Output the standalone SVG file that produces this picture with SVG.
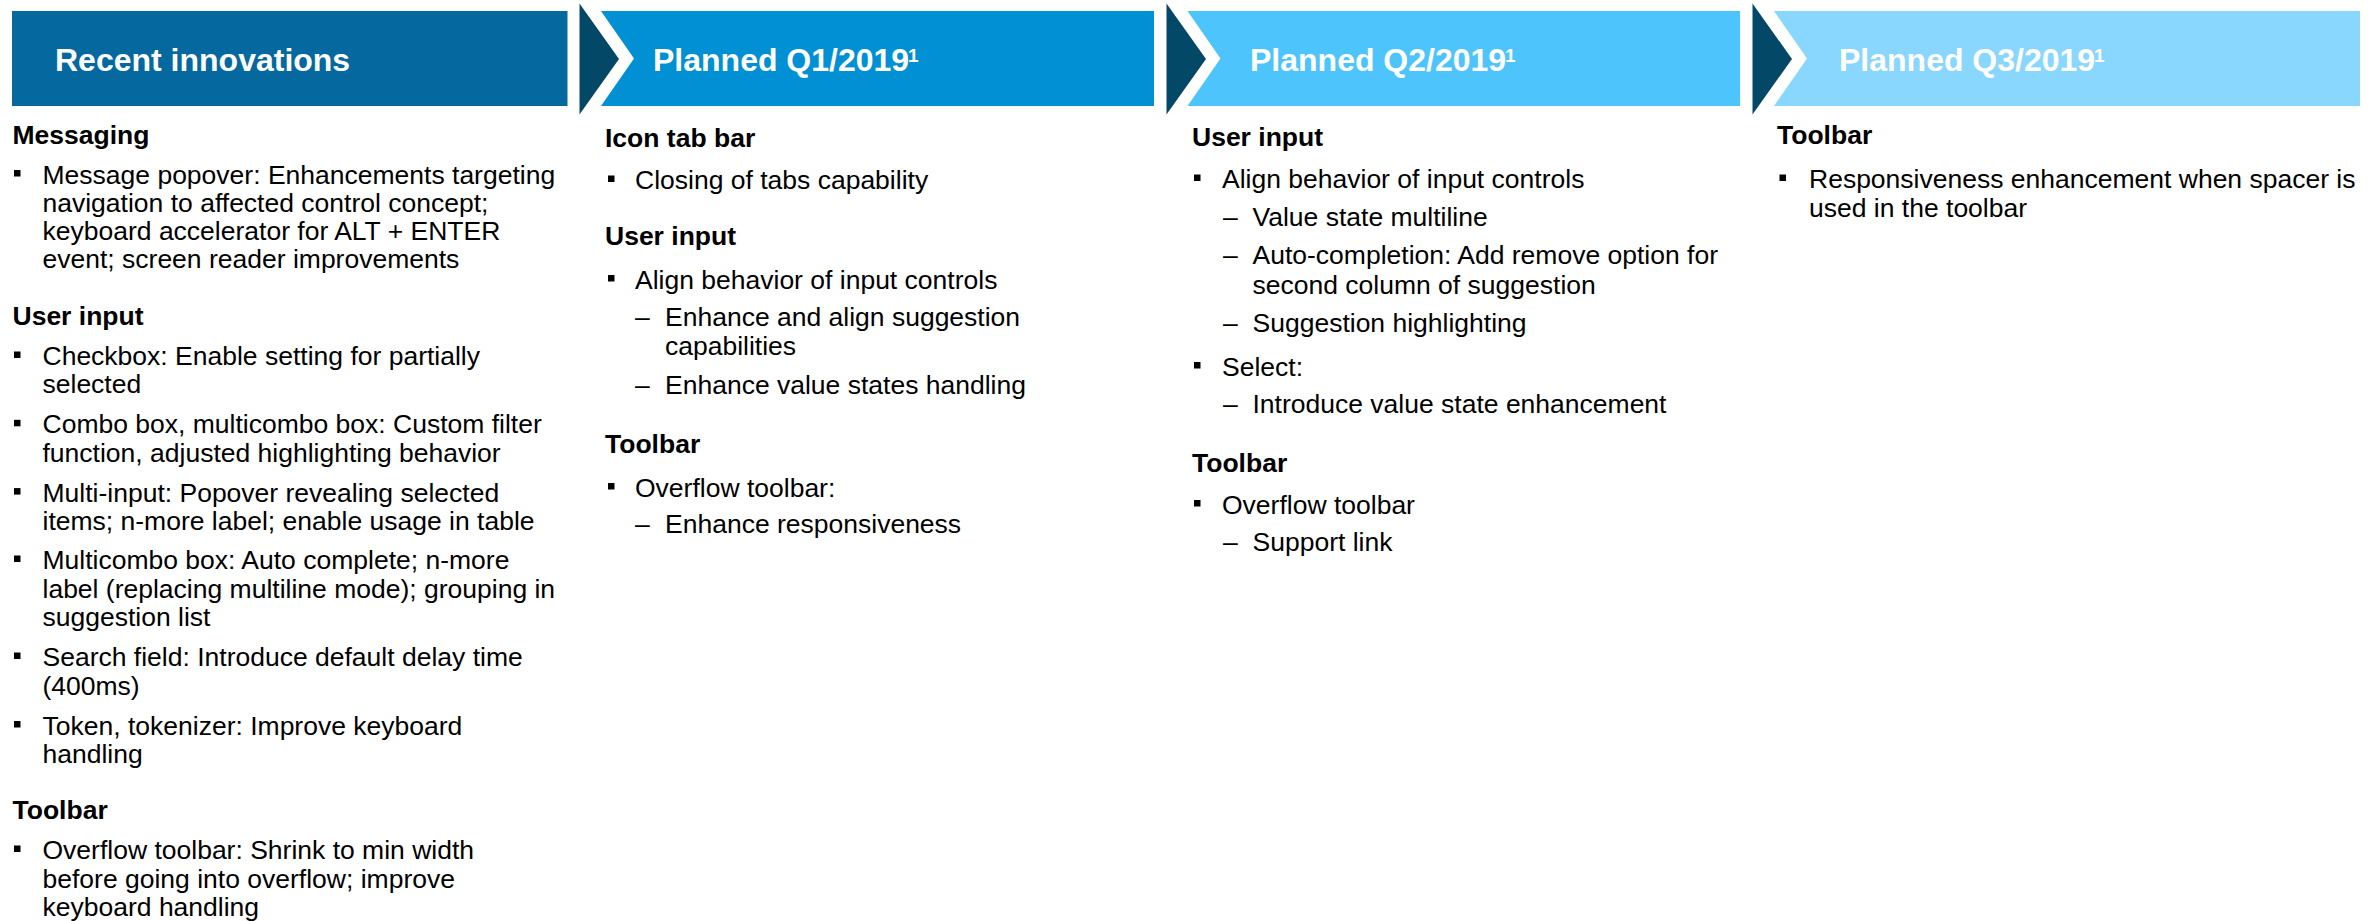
<svg xmlns="http://www.w3.org/2000/svg" width="2380" height="921" viewBox="0 0 2380 921">
<style>
text{font-family:"Liberation Sans",Arial,sans-serif;fill:#000}
.ht{font-size:32px;font-weight:bold;fill:#fff}
.sup{font-size:19px;font-weight:bold;fill:#fff}
.hd{font-size:26.5px;font-weight:bold}
.t{font-size:26.5px}
.b{fill:#000}
.dark{fill:#044868}
</style>
<rect width="2380" height="921" fill="#fff"/>
<g id="header-recent">
<rect x="12" y="11" width="555.5" height="95" fill="#05699F"/>
<text class="ht" x="55" y="71">Recent innovations</text>
</g>
<g id="header-q1">
<polygon points="601,11 1154,11 1154,106 601,106 634,58.5" fill="#0190D4"/>
<text class="ht" x="653" y="71">Planned Q1/2019</text>
<text class="sup" x="908" y="61.5">1</text>
</g>
<g id="header-q2">
<polygon points="1187.5,11 1740,11 1740,106 1187.5,106 1220.5,58.5" fill="#4EC4FD"/>
<text class="ht" x="1250" y="71">Planned Q2/2019</text>
<text class="sup" x="1505" y="61.5">1</text>
</g>
<g id="header-q3">
<polygon points="1774,11 2360,11 2360,106 1774,106 1807,58.5" fill="#89D7FE"/>
<text class="ht" x="1839" y="71">Planned Q3/2019</text>
<text class="sup" x="2094" y="61.5">1</text>
</g>
<g id="connectors">
<polygon class="dark" points="579.5,3.5 619,59 579.5,114.5"/>
<polygon class="dark" points="1166.5,3.5 1206,59 1166.5,114.5"/>
<polygon class="dark" points="1752.5,3.5 1792,59 1752.5,114.5"/>
</g>
<g id="col-recent">
<text class="hd" x="12.5" y="143.5">Messaging</text>
<rect class="b" x="14" y="170" width="6.5" height="6.5"/>
<text class="t" x="42.5" y="183.5">Message popover: Enhancements targeting</text>
<text class="t" x="42.5" y="211.8">navigation to affected control concept;</text>
<text class="t" x="42.5" y="240">keyboard accelerator for ALT + ENTER</text>
<text class="t" x="42.5" y="268.3">event; screen reader improvements</text>
<text class="hd" x="12.5" y="325">User input</text>
<rect class="b" x="14" y="351.5" width="6.5" height="6.5"/>
<text class="t" x="42.5" y="365">Checkbox: Enable setting for partially</text>
<text class="t" x="42.5" y="393.3">selected</text>
<rect class="b" x="14" y="419.8" width="6.5" height="6.5"/>
<text class="t" x="42.5" y="433.3">Combo box, multicombo box: Custom filter</text>
<text class="t" x="42.5" y="461.6">function, adjusted highlighting behavior</text>
<rect class="b" x="14" y="488.1" width="6.5" height="6.5"/>
<text class="t" x="42.5" y="501.6">Multi-input: Popover revealing selected</text>
<text class="t" x="42.5" y="530">items; n-more label; enable usage in table</text>
<rect class="b" x="14" y="555.5" width="6.5" height="6.5"/>
<text class="t" x="42.5" y="569">Multicombo box: Auto complete; n-more</text>
<text class="t" x="42.5" y="597.5">label (replacing multiline mode); grouping in</text>
<text class="t" x="42.5" y="626">suggestion list</text>
<rect class="b" x="14" y="652.5" width="6.5" height="6.5"/>
<text class="t" x="42.5" y="666">Search field: Introduce default delay time</text>
<text class="t" x="42.5" y="694.5">(400ms)</text>
<rect class="b" x="14" y="721" width="6.5" height="6.5"/>
<text class="t" x="42.5" y="734.5">Token, tokenizer: Improve keyboard</text>
<text class="t" x="42.5" y="763">handling</text>
<text class="hd" x="12.5" y="819">Toolbar</text>
<rect class="b" x="14" y="845.5" width="6.5" height="6.5"/>
<text class="t" x="42.5" y="859">Overflow toolbar: Shrink to min width</text>
<text class="t" x="42.5" y="887.5">before going into overflow; improve</text>
<text class="t" x="42.5" y="916">keyboard handling</text>
</g>
<g id="col-q1">
<text class="hd" x="605" y="147">Icon tab bar</text>
<rect class="b" x="608" y="175.5" width="6.5" height="6.5"/>
<text class="t" x="635" y="189">Closing of tabs capability</text>
<text class="hd" x="605" y="245">User input</text>
<rect class="b" x="608" y="275" width="6.5" height="6.5"/>
<text class="t" x="635" y="288.5">Align behavior of input controls</text>
<text class="t" x="635" y="326">–</text>
<text class="t" x="665" y="326">Enhance and align suggestion</text>
<text class="t" x="665" y="355">capabilities</text>
<text class="t" x="635" y="394">–</text>
<text class="t" x="665" y="394">Enhance value states handling</text>
<text class="hd" x="605" y="453">Toolbar</text>
<rect class="b" x="608" y="483" width="6.5" height="6.5"/>
<text class="t" x="635" y="496.5">Overflow toolbar:</text>
<text class="t" x="635" y="533">–</text>
<text class="t" x="665" y="533">Enhance responsiveness</text>
</g>
<g id="col-q2">
<text class="hd" x="1192" y="146">User input</text>
<rect class="b" x="1194" y="174.5" width="6.5" height="6.5"/>
<text class="t" x="1222" y="188">Align behavior of input controls</text>
<text class="t" x="1223" y="225.5">–</text>
<text class="t" x="1252.5" y="225.5">Value state multiline</text>
<text class="t" x="1223" y="263.5">–</text>
<text class="t" x="1252.5" y="263.5">Auto-completion: Add remove option for</text>
<text class="t" x="1252.5" y="294">second column of suggestion</text>
<text class="t" x="1223" y="332">–</text>
<text class="t" x="1252.5" y="332">Suggestion highlighting</text>
<rect class="b" x="1194" y="362" width="6.5" height="6.5"/>
<text class="t" x="1222" y="375.5">Select:</text>
<text class="t" x="1223" y="412.5">–</text>
<text class="t" x="1252.5" y="412.5">Introduce value state enhancement</text>
<text class="hd" x="1192" y="471.5">Toolbar</text>
<rect class="b" x="1194" y="500" width="6.5" height="6.5"/>
<text class="t" x="1222" y="513.5">Overflow toolbar</text>
<text class="t" x="1223" y="550.5">–</text>
<text class="t" x="1252.5" y="550.5">Support link</text>
</g>
<g id="col-q3">
<text class="hd" x="1777" y="144">Toolbar</text>
<rect class="b" x="1779.5" y="174.5" width="6.5" height="6.5"/>
<text class="t" x="1809" y="188">Responsiveness enhancement when spacer is</text>
<text class="t" x="1809" y="216.5">used in the toolbar</text>
</g>
</svg>
